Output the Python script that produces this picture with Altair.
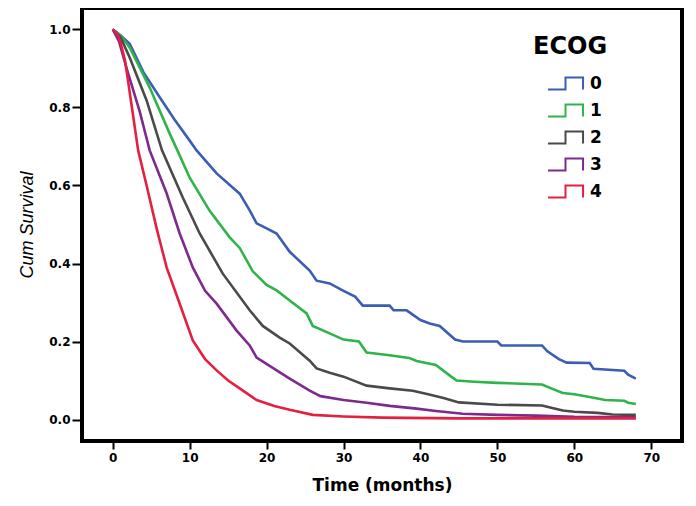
import altair as alt
import pandas as pd

groups = ["0", "1", "2", "3", "4"]
colors = ["#3d5db4", "#2fb34a", "#4a4a4a", "#7d2a8c", "#e3203f"]

t0 = [0, 1.0, 2.2, 4.0, 6.1, 8.0, 10.0, 10.9, 13.5, 16.5, 17.8, 18.7, 20.0, 21.3, 23.0, 25.6, 26.5, 28.2, 30.0, 31.5, 32.5, 36.0, 36.5, 38.2, 40.0, 41.2, 42.5, 44.5, 45.5, 50.0, 50.5, 55.8, 56.5, 58.0, 59.0, 62.0, 62.5, 66.5, 67.0, 68.0]
s0 = [1, 0.985, 0.963, 0.89, 0.826, 0.77, 0.715, 0.69, 0.631, 0.579, 0.536, 0.503, 0.49, 0.477, 0.43, 0.382, 0.356, 0.349, 0.33, 0.315, 0.292, 0.292, 0.28, 0.28, 0.255, 0.246, 0.24, 0.205, 0.2, 0.2, 0.19, 0.19, 0.175, 0.155, 0.146, 0.145, 0.13, 0.125, 0.115, 0.105]

t1 = [0, 1.0, 2.2, 4.8, 7.4, 8.4, 10.0, 12.6, 15.2, 16.5, 18.2, 20.0, 21.3, 23.0, 25.2, 26.0, 28.2, 30.0, 32.0, 33.0, 36.0, 38.5, 39.5, 42.0, 44.0, 44.7, 47.0, 50.0, 55.8, 57.0, 58.5, 60.0, 62.0, 64.0, 66.5, 67.0, 68.0]
s1 = [1, 0.985, 0.954, 0.851, 0.733, 0.69, 0.62, 0.535, 0.467, 0.44, 0.38, 0.345, 0.331, 0.305, 0.272, 0.24, 0.221, 0.205, 0.2, 0.172, 0.165, 0.158, 0.15, 0.14, 0.11, 0.1, 0.097, 0.094, 0.09, 0.08, 0.068, 0.065, 0.058, 0.05, 0.048, 0.043, 0.04]

t2 = [0, 1.0, 2.2, 4.4, 6.4, 9.1, 11.3, 14.3, 17.8, 19.5, 21.7, 23.0, 25.6, 26.5, 28.2, 30.0, 33.0, 36.0, 39.0, 41.0, 43.0, 45.0, 50.0, 55.8, 57.0, 58.5, 60.0, 63.0, 65.0, 68.0]
s2 = [1, 0.98, 0.928, 0.818, 0.69, 0.569, 0.477, 0.374, 0.28, 0.24, 0.21, 0.195, 0.151, 0.131, 0.12, 0.11, 0.087, 0.08, 0.074, 0.065, 0.055, 0.044, 0.038, 0.036, 0.03, 0.023, 0.02, 0.017, 0.013, 0.012]

t3 = [0, 0.8, 1.8, 3.5, 4.8, 7.0, 8.7, 10.4, 12.0, 13.5, 16.1, 17.8, 18.7, 21.0, 23.0, 25.6, 27.0, 30.0, 33.0, 36.0, 39.5, 42.0, 45.5, 50.0, 55.0, 60.0, 68.0]
s3 = [1, 0.97, 0.9, 0.79, 0.69, 0.58, 0.477, 0.39, 0.33, 0.297, 0.228, 0.19, 0.159, 0.13, 0.105, 0.074, 0.06, 0.05, 0.043, 0.035, 0.028, 0.022, 0.015, 0.012, 0.01, 0.007, 0.006]

t4 = [0, 0.5, 0.9, 1.6, 2.6, 3.3, 4.4, 5.7, 7.0, 8.7, 10.4, 12.0, 13.5, 15.0, 16.5, 18.7, 21.0, 23.0, 26.0, 30.0, 35.0, 45.0, 68.0]
s4 = [1, 0.99, 0.975, 0.92, 0.785, 0.69, 0.6, 0.49, 0.39, 0.297, 0.203, 0.155, 0.126, 0.1, 0.08, 0.05, 0.035, 0.025, 0.012, 0.008, 0.005, 0.003, 0.003]

x_ticks = [0, 10, 20, 30, 40, 50, 60, 70]
y_ticks = [0.0, 0.2, 0.4, 0.6, 0.8, 1.0]

rows = []
for g, ts, ss in zip(groups, [t0, t1, t2, t3, t4], [s0, s1, s2, s3, s4]):
    for i, (t, s) in enumerate(zip(ts, ss)):
        rows.append({"ECOG": g, "time": t, "surv": s, "order": i})
df = pd.DataFrame(rows)

step_icon = "M-1.3,0.44H0V-0.44H1.3V0.44"

chart = alt.Chart(df).mark_line(strokeWidth=2.6).encode(
    x=alt.X("time:Q",
            scale=alt.Scale(domain=[-4, 74], nice=False, zero=False),
            axis=alt.Axis(values=x_ticks, title="Time (months)", format="d",
                          tickSize=8, labelPadding=3, titlePadding=14)),
    y=alt.Y("surv:Q",
            scale=alt.Scale(domain=[-0.055, 1.055], nice=False, zero=False),
            axis=alt.Axis(values=y_ticks, title="Cum Survival", format=".1f",
                          tickSize=10, labelPadding=2, titlePadding=12,
                          titleFontStyle="italic", titleFontWeight="normal",
                          titleFont="Liberation Sans", titleFontSize=18)),
    color=alt.Color("ECOG:N",
                    scale=alt.Scale(domain=groups, range=colors),
                    legend=alt.Legend(title="ECOG", orient="none",
                                      legendX=451, legendY=27,
                                      symbolType=step_icon, symbolSize=729,
                                      symbolStrokeWidth=2, symbolFillColor="transparent",
                                      symbolOffset=18, labelOffset=10,
                                      rowPadding=2, titlePadding=10,
                                      titleFont="DejaVu Sans", titleFontSize=24,
                                      titleFontWeight="bold", titleColor="black",
                                      labelFont="DejaVu Sans", labelFontSize=17,
                                      labelFontWeight="bold", labelColor="black")),
    order="order:Q",
).properties(
    width=600, height=433,
    autosize=alt.AutoSizeParams(type="none"),
    padding={"left": 74, "top": 0, "right": 6, "bottom": 57},
).configure_view(
    stroke="black", strokeWidth=4
).configure_axis(
    grid=False, domain=False, tickColor="black", tickWidth=2,
    labelFont="DejaVu Sans", labelFontSize=12, labelFontWeight="bold", labelColor="black",
    titleFont="DejaVu Sans", titleFontSize=17, titleFontWeight="bold", titleColor="black",
)

chart.save("out.html", embed_options={"renderer": "svg", "actions": False})
